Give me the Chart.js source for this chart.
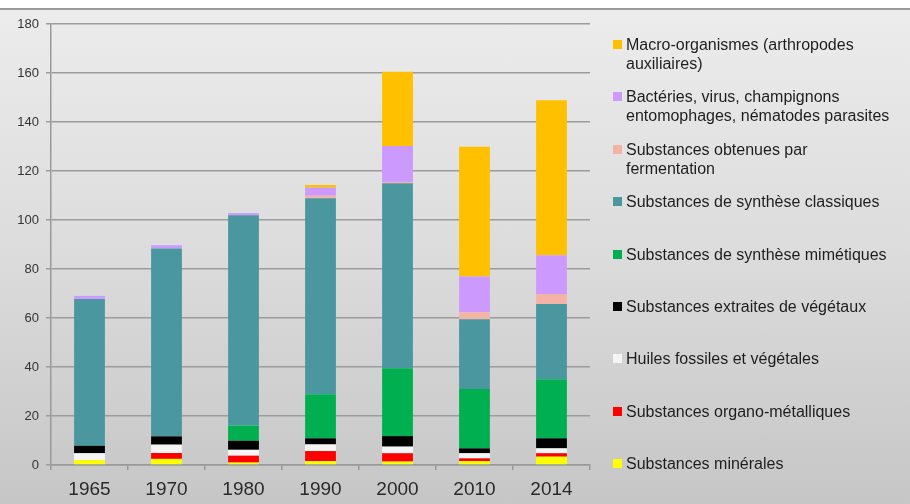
<!DOCTYPE html>
<html lang="fr">
<head>
<meta charset="UTF-8">
<title>Produits de biocontrôle</title>
<script src="https://cdn.jsdelivr.net/npm/chart.js"></script>
<style>
  body { margin: 0; background: #fff; font-family: "Liberation Sans", Arial, sans-serif; }
  #wrap {
    position: relative; width: 910px; height: 504px; overflow: hidden;
    background: linear-gradient(#ffffff 0, #ffffff 8px, #9a9a9a 8px, #9a9a9a 10px, #ececec 10px, #dcdcdc 250px, #c6c6c6 504px);
  }
  #chart { position: absolute; left: 0; top: 0; }
  #legend { position: absolute; left: 613px; top: 35px; width: 297px; }
  .item { position: relative; height: 52.4px; padding-left: 13px; font-size: 16px; line-height: 19px; color: #1e1e1e; white-space: pre-line; }
  .box { position: absolute; left: 0; top: 5px; width: 9px; height: 9px; }
</style>
</head>
<body>
<div id="wrap">
  <canvas id="chart" width="910" height="504"></canvas>
  <div id="legend"></div>
</div>
<script>
  const years = ['1965', '1970', '1980', '1990', '2000', '2010', '2014'];

  // stacked from bottom to top
  const minerales   = [2, 2.5, 1, 1.6, 1.4, 1.6, 3.4];
  const organo      = [0, 2.4, 2.8, 4.1, 3.4, 1.1, 1.4];
  const huiles      = [2.8, 3.4, 2.4, 2.7, 2.7, 2.1, 2];
  const extraites   = [3, 3.4, 3.7, 2.5, 4.3, 2, 4.1];
  const mimetiques  = [0, 0, 6.2, 18, 27.7, 24.2, 24.1];
  const classiques  = [60, 76.7, 85.8, 80, 75.5, 28.5, 30.7];
  const fermentation = [0, 0, 0, 1, 0.5, 2.8, 4.1];
  const bacteries   = [1.2, 1.3, 0.9, 3.3, 14.7, 14.6, 15.8];
  const macro       = [0, 0, 0, 1.1, 30.3, 53, 63.3];

  const series = [
    { label: 'Substances minérales', data: minerales, color: '#ffff00' },
    { label: 'Substances organo-métalliques', data: organo, color: '#ff0000' },
    { label: 'Huiles fossiles et végétales', data: huiles, color: '#f5f5f5' },
    { label: 'Substances extraites de végétaux', data: extraites, color: '#000000' },
    { label: 'Substances de synthèse mimétiques', data: mimetiques, color: '#00b050' },
    { label: 'Substances de synthèse classiques', data: classiques, color: '#4a979f' },
    { label: 'Substances obtenues par\nfermentation', data: fermentation, color: '#f5b3a6' },
    { label: 'Bactéries, virus, champignons\nentomophages, nématodes parasites', data: bacteries, color: '#cc99ff' },
    { label: 'Macro-organismes (arthropodes\nauxiliaires)', data: macro, color: '#ffc000' }
  ];

  // legend, top item first
  const legend = document.getElementById('legend');
  series.slice().reverse().forEach(s => {
    const item = document.createElement('div');
    item.className = 'item';
    item.textContent = s.label;
    const box = document.createElement('span');
    box.className = 'box';
    box.style.background = s.color;
    item.appendChild(box);
    legend.appendChild(item);
  });

  new Chart(document.getElementById('chart'), {
    type: 'bar',
    data: {
      labels: years,
      datasets: series.map(s => ({
        label: s.label.replace('\n', ' '),
        data: s.data,
        backgroundColor: s.color,
        borderWidth: 0,
        barPercentage: 0.8,
        categoryPercentage: 0.5
      }))
    },
    options: {
      responsive: false,
      animation: false,
      layout: { padding: { top: 24, right: 320, left: 0, bottom: 0 } },
      plugins: { legend: { display: false }, tooltip: { enabled: false } },
      scales: {
        x: {
          stacked: true,
          afterFit: scale => { scale.height = 39; },
          grid: { drawOnChartArea: false, tickLength: 5, color: '#999', lineWidth: 1.5 },
          border: { color: '#999', width: 1.5 },
          ticks: { color: '#2a2a2a', padding: 8, font: { family: 'Liberation Sans', size: 19 } }
        },
        y: {
          stacked: true,
          min: 0,
          max: 180,
          afterFit: scale => { scale.width = 51; },
          grid: { color: '#9c9c9c', lineWidth: 1.5, tickLength: 5 },
          border: { color: '#999', width: 1.5 },
          ticks: { stepSize: 20, color: '#333', padding: 7, font: { family: 'Liberation Sans', size: 13 } }
        }
      }
    }
  });
</script>
</body>
</html>
